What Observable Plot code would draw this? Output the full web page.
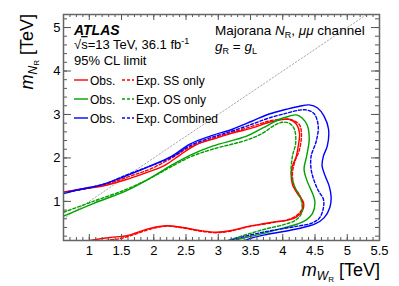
<!DOCTYPE html>
<html><head><meta charset="utf-8">
<script src="https://cdn.jsdelivr.net/npm/d3@7"></script>
<script src="https://cdn.jsdelivr.net/npm/@observablehq/plot@0.6"></script>
<style>body{margin:0;background:#fff;} svg{display:block}</style>
</head><body><div id="chart"></div>
<script>
// ---- data (TeV) ----
const obsSS = [[0.60,1.21],[0.86,1.28],[1.21,1.35],[1.63,1.53],[1.94,1.69],[2.17,1.83],[2.40,2.06],[2.56,2.22],[2.71,2.34],[2.91,2.43],[3.22,2.57],[3.53,2.69],[3.79,2.82],[3.95,2.87],[4.10,2.89],[4.21,2.78],[4.26,2.57],[4.24,2.27],[4.21,2.04],[4.15,1.81],[4.13,1.62],[4.15,1.39],[4.24,1.15],[4.32,0.98],[4.31,0.80],[4.22,0.65],[4.08,0.57],[3.92,0.54],[3.72,0.49],[3.48,0.43],[3.20,0.33],[2.97,0.29],[2.71,0.33],[2.45,0.40],[2.20,0.44],[1.94,0.38],[1.58,0.21],[1.32,0.17],[1.01,0.10],[0.80,0.04]];
const expSS = [[0.60,1.21],[1.21,1.37],[1.63,1.58],[1.94,1.74],[2.28,2.00],[2.56,2.25],[2.91,2.45],[3.22,2.59],[3.53,2.73],[3.79,2.85],[3.99,2.89],[4.15,2.87],[4.26,2.76],[4.29,2.55],[4.26,2.20],[4.18,1.88],[4.15,1.62],[4.18,1.35],[4.27,1.12],[4.31,0.95],[4.29,0.80],[4.20,0.66],[4.06,0.57],[3.92,0.53],[3.72,0.48],[3.48,0.42],[3.20,0.32],[2.97,0.28],[2.71,0.32],[2.45,0.39],[2.20,0.43],[1.94,0.36],[1.70,0.24],[1.50,0.15],[1.30,0.11],[1.10,0.05]];
const obsOS = [[0.60,0.66],[1.06,0.95],[1.58,1.25],[1.94,1.53],[2.25,1.81],[2.56,2.06],[2.91,2.27],[3.44,2.50],[3.69,2.69],[3.95,2.89],[4.10,2.96],[4.21,2.99],[4.30,2.92],[4.38,2.75],[4.41,2.43],[4.37,2.04],[4.33,1.74],[4.38,1.46],[4.47,1.15],[4.50,0.97],[4.46,0.72],[4.36,0.57],[4.23,0.48],[3.99,0.38],[3.72,0.27],[3.40,0.16],[3.17,0.08]];
const expOS = [[0.60,0.75],[1.06,1.00],[1.58,1.28],[1.94,1.53],[2.25,1.78],[2.56,2.02],[2.91,2.20],[3.44,2.41],[3.69,2.57],[3.87,2.75],[3.99,2.82],[4.10,2.80],[4.18,2.66],[4.20,2.34],[4.15,2.04],[4.13,1.65],[4.18,1.35],[4.27,1.10],[4.30,0.90],[4.29,0.72],[4.20,0.57],[4.03,0.47],[3.72,0.36],[3.40,0.22],[3.10,0.08]];
const obsComb = [[0.60,1.18],[0.86,1.28],[1.21,1.39],[1.63,1.62],[1.94,1.81],[2.28,2.04],[2.56,2.32],[2.91,2.52],[3.22,2.66],[3.53,2.85],[3.79,3.01],[4.06,3.12],[4.26,3.19],[4.41,3.22],[4.54,3.15],[4.64,2.96],[4.71,2.66],[4.69,2.27],[4.63,2.04],[4.61,1.81],[4.66,1.58],[4.72,1.35],[4.75,1.10],[4.73,0.86],[4.64,0.62],[4.50,0.48],[4.23,0.37],[3.99,0.30],[3.72,0.23],[3.50,0.15],[3.38,0.08]];
const expComb = [[0.60,1.20],[1.21,1.39],[1.63,1.64],[1.94,1.81],[2.28,2.02],[2.56,2.28],[2.91,2.48],[3.22,2.62],[3.53,2.78],[3.79,2.92],[4.06,3.03],[4.26,3.10],[4.38,3.10],[4.49,3.01],[4.55,2.73],[4.52,2.39],[4.44,2.04],[4.44,1.74],[4.49,1.46],[4.55,1.25],[4.63,1.05],[4.63,0.85],[4.57,0.62],[4.45,0.50],[4.23,0.43],[3.99,0.37],[3.72,0.30],[3.40,0.19],[3.12,0.08]];
const diagonal = [0.1, 5.5];
const xTickLabels = [1,1.5,2,2.5,3,3.5,4,4.5,5,5.5];
const yTickLabels = [1,2,3,4,5];
const xMinorTicks = d3.range(6, 56).map(d => d/10);
const yMinorTicks = d3.range(1, 27).map(d => d/5);

const W = 399, H = 286, mL = 63, mR = 20, mT = 14, mB = 46;
const fw = W - mL - mR, fh = H - mT - mB;
const RED = "#ff0000", GREEN = "#00a000", BLUE = "#0000ff";
const FONT = "Liberation Sans, Arial, Helvetica, sans-serif";
const dash = "3,2";

const curve = (data, color, dashed) => Plot.line(data, {x: d => d[0], y: d => d[1], stroke: color, strokeWidth: 1.4, curve: "catmull-rom", clip: true, strokeDasharray: dashed ? dash : null});

const chart = Plot.plot({
  width: W, height: H,
  marginLeft: mL, marginRight: mR, marginTop: mT, marginBottom: mB,
  style: {fontFamily: FONT, background: "#fff"},
  x: {domain: [0.6, 5.5], axis: null},
  y: {domain: [0.1, 5.3], axis: null},
  marks: [
    Plot.line(diagonal, {x: d => d, y: d => d, stroke: "#aaa", strokeWidth: 1, strokeDasharray: "1.5,2", clip: true}),
    curve(expSS, RED, true), curve(obsSS, RED, false),
    curve(expOS, GREEN, true), curve(obsOS, GREEN, false),
    curve(expComb, BLUE, true), curve(obsComb, BLUE, false),
    Plot.tickX(xMinorTicks, {x: d => d, insetTop: fh - 3, stroke: "#555"}),
    Plot.tickX(xMinorTicks, {x: d => d, insetBottom: fh - 3, stroke: "#555"}),
    Plot.tickX(xTickLabels, {x: d => d, insetTop: fh - 6, stroke: "#555"}),
    Plot.tickX(xTickLabels, {x: d => d, insetBottom: fh - 6, stroke: "#555"}),
    Plot.tickY(yMinorTicks, {y: d => d, insetRight: fw - 4, stroke: "#555"}),
    Plot.tickY(yMinorTicks, {y: d => d, insetLeft: fw - 4, stroke: "#555"}),
    Plot.tickY(yTickLabels, {y: d => d, insetRight: fw - 8, stroke: "#555"}),
    Plot.tickY(yTickLabels, {y: d => d, insetLeft: fw - 8, stroke: "#555"}),
    Plot.frame({stroke: "#666", strokeWidth: 1.5}),
    Plot.axisX(xTickLabels, {anchor: "bottom", tickSize: 0, tickPadding: 5, fontSize: 13, tickFormat: d => String(d), fill: "#000"}),
    Plot.axisY(yTickLabels, {anchor: "left", tickSize: 0, tickPadding: 3, fontSize: 13, tickFormat: d => String(d), fill: "#000"})
  ]
});
document.getElementById("chart").appendChild(chart);

// ---- annotations ----
const svg = d3.select(chart);
const g = svg.append("g").attr("font-family", FONT).attr("fill", "#000");
function txt(x, y, parts, size, anchor, transform) {
  const t = g.append("text").attr("font-size", size).attr("text-anchor", anchor || "start");
  if (transform) t.attr("transform", transform); else t.attr("x", x).attr("y", y);
  for (const p of parts) {
    const s = t.append("tspan").text(p.t);
    if (p.i) s.attr("font-style", "italic");
    if (p.b) s.attr("font-weight", "bold");
    if (p.s) s.attr("font-size", p.s);
    if (p.dy) s.attr("dy", p.dy);
    if (p.o) s.style("text-decoration", "overline");
  }
  return t;
}
// axis titles
txt(0, 0, [{t: "m", i: 1}, {t: "N", i: 1, s: 12, dy: 4}, {t: "R", s: 8, dy: 2}, {t: " [TeV]", dy: -6}], 18, "end", "translate(33,14) rotate(-90)");
txt(380, 276, [{t: "m", i: 1}, {t: "W", i: 1, s: 12, dy: 4}, {t: "R", s: 8, dy: 2}, {t: " [TeV]", dy: -6}], 18, "end");
// ATLAS labels
txt(74, 35, [{t: "ATLAS", i: 1, b: 1}], 14);
txt(74, 49, [{t: "√"}, {t: "s", o: 1}, {t: "=13 TeV, 36.1 fb"}, {t: "-1", s: 9, dy: -5}], 13);
txt(74, 65, [{t: "95% CL limit"}], 13);
txt(215, 35, [{t: "Majorana "}, {t: "N", i: 1}, {t: "R", s: 9, dy: 3}, {t: ", ", dy: -3}, {t: "μμ", i: 1}, {t: " channel"}], 13.5);
txt(215, 51, [{t: "g", i: 1}, {t: "R", s: 9, dy: 3}, {t: " = ", dy: -3}, {t: "g", i: 1}, {t: "L", s: 9, dy: 3}], 13.5);
// legend
const rows = [[RED, "Exp. SS only", 80], [GREEN, "Exp. OS only", 99], [BLUE, "Exp. Combined", 118]];
for (const [c, lab, y] of rows) {
  g.append("line").attr("x1", 74).attr("x2", 88).attr("y1", y).attr("y2", y).attr("stroke", c).attr("stroke-width", 1.4);
  txt(90, y + 4.5, [{t: "Obs."}], 12);
  g.append("line").attr("x1", 122).attr("x2", 134).attr("y1", y).attr("y2", y).attr("stroke", c).attr("stroke-width", 1.4).attr("stroke-dasharray", dash);
  txt(136, y + 4.5, [{t: lab}], 12);
}
</script></body></html>
